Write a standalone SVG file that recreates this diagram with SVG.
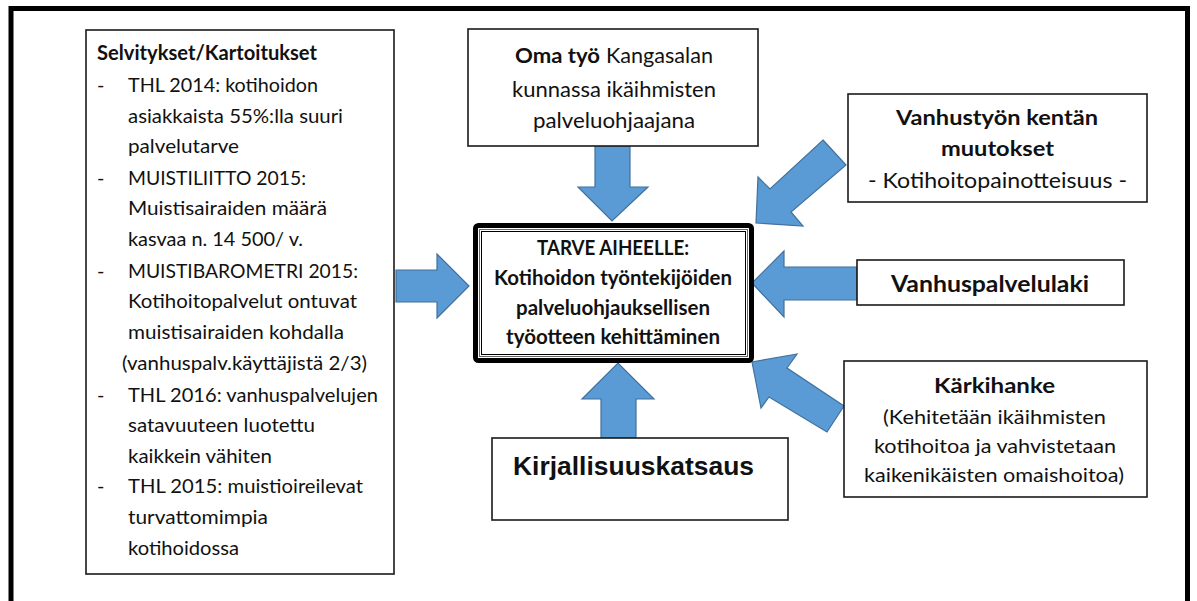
<svg xmlns="http://www.w3.org/2000/svg" width="1197" height="601" viewBox="0 0 1197 601">
<style>
.box{fill:#fff;stroke:#1a1a1a;stroke-width:1.6}
.arrow{fill:#5B9BD5;stroke:#41719C;stroke-width:1.2;stroke-linejoin:miter}
.t{font-family:Lato,"Open Sans","Noto Sans",sans-serif;font-size:20px;fill:#111}
.b{font-weight:bold}
.lg{font-size:23.5px}
.md{font-size:21px}
.ar{font-family:"Liberation Sans",Arial,sans-serif;font-weight:bold;font-size:26px;fill:#111}
</style>
<rect width="1197" height="601" fill="#fff"/>
<path d="M11,601 V8.5 H1187.5 V601" fill="none" stroke="#000" stroke-width="5"/>

<g id="connectors">
  <polygon class="arrow" points="396,270 437,270 437,254 469,286 437,318 437,302 396,302"/>
  <polygon class="arrow" points="595,146 630,146 630,187 648,187 612,221 578,187 595,187"/>
  <polygon class="arrow" points="601,438 601,399 582,399 618,363 654,399 636,399 636,438"/>
  <polygon class="arrow" points="823,140 846,165 791,212 803,226 756,223 758,177 770,189"/>
  <polygon class="arrow" points="857,267 784,267 784,251 752,283 784,317 784,300 857,300"/>
  <polygon class="arrow" points="844,406 827,432 769,397 761,408 752,362 797,354 787,368"/>
</g>

<g id="selvitykset">
  <rect class="box" x="86" y="30" width="308" height="544"/>
  <text class="t b" x="97" y="60" textLength="220" lengthAdjust="spacingAndGlyphs">Selvitykset/Kartoitukset</text>
  <text class="t" x="97" y="92">-</text>
  <text class="t" x="128" y="92" textLength="190" lengthAdjust="spacingAndGlyphs">THL 2014: kotihoidon</text>
  <text class="t" x="128" y="123" textLength="215" lengthAdjust="spacingAndGlyphs">asiakkaista 55%:lla suuri</text>
  <text class="t" x="128" y="153" textLength="111" lengthAdjust="spacingAndGlyphs">palvelutarve</text>
  <text class="t" x="97" y="185">-</text>
  <text class="t" x="128" y="185" textLength="178" lengthAdjust="spacingAndGlyphs">MUISTILIITTO 2015:</text>
  <text class="t" x="128" y="215" textLength="199" lengthAdjust="spacingAndGlyphs">Muistisairaiden määrä</text>
  <text class="t" x="128" y="246" textLength="175" lengthAdjust="spacingAndGlyphs">kasvaa n. 14 500/ v.</text>
  <text class="t" x="97" y="278">-</text>
  <text class="t" x="128" y="278" textLength="230" lengthAdjust="spacingAndGlyphs">MUISTIBAROMETRI 2015:</text>
  <text class="t" x="128" y="308" textLength="229" lengthAdjust="spacingAndGlyphs">Kotihoitopalvelut ontuvat</text>
  <text class="t" x="128" y="339" textLength="216" lengthAdjust="spacingAndGlyphs">muistisairaiden kohdalla</text>
  <text class="t" x="122" y="370" textLength="245" lengthAdjust="spacingAndGlyphs">(vanhuspalv.käyttäjistä 2/3)</text>
  <text class="t" x="97" y="402">-</text>
  <text class="t" x="128" y="402" textLength="250" lengthAdjust="spacingAndGlyphs">THL 2016: vanhuspalvelujen</text>
  <text class="t" x="128" y="432" textLength="187" lengthAdjust="spacingAndGlyphs">satavuuteen luotettu</text>
  <text class="t" x="128" y="463" textLength="144" lengthAdjust="spacingAndGlyphs">kaikkein vähiten</text>
  <text class="t" x="97" y="493">-</text>
  <text class="t" x="128" y="493" textLength="235" lengthAdjust="spacingAndGlyphs">THL 2015: muistioireilevat</text>
  <text class="t" x="128" y="524" textLength="140" lengthAdjust="spacingAndGlyphs">turvattomimpia</text>
  <text class="t" x="128" y="555" textLength="111" lengthAdjust="spacingAndGlyphs">kotihoidossa</text>
</g>

<g id="oma-tyo">
  <rect class="box" x="468" y="29" width="290" height="117"/>
  <text class="t md b" x="515" y="63" textLength="85" lengthAdjust="spacingAndGlyphs">Oma työ</text>
  <text class="t md" x="606" y="63" textLength="107" lengthAdjust="spacingAndGlyphs">Kangasalan</text>
  <text class="t md" x="512" y="97" textLength="204" lengthAdjust="spacingAndGlyphs">kunnassa ikäihmisten</text>
  <text class="t md" x="533" y="128" textLength="162" lengthAdjust="spacingAndGlyphs">palveluohjaajana</text>
</g>

<g id="tarve">
  <rect x="475.5" y="225.5" width="276" height="135" rx="3" fill="#fff" stroke="#000" stroke-width="5"/>
  <rect x="479.5" y="229.5" width="268" height="127" fill="none" stroke="#666" stroke-width="1"/>
  <rect x="481.5" y="231.5" width="264" height="123" fill="none" stroke="#000" stroke-width="1"/>
  <text class="t b" x="537" y="255" textLength="152" lengthAdjust="spacingAndGlyphs">TARVE AIHEELLE:</text>
  <text class="t b" x="494" y="285" textLength="238" lengthAdjust="spacingAndGlyphs">Kotihoidon työntekijöiden</text>
  <text class="t b" x="516" y="315" textLength="194" lengthAdjust="spacingAndGlyphs">palveluohjauksellisen</text>
  <text class="t b" x="506" y="344" textLength="214" lengthAdjust="spacingAndGlyphs">työotteen kehittäminen</text>
</g>

<g id="kirjallisuuskatsaus">
  <rect class="box" x="492" y="438" width="296" height="82"/>
  <text class="ar" x="513" y="475" textLength="241" lengthAdjust="spacingAndGlyphs">Kirjallisuuskatsaus</text>
</g>

<g id="vanhustyon-muutokset">
  <rect class="box" x="848" y="94" width="299" height="108"/>
  <text class="t md b" x="896" y="125" textLength="202" lengthAdjust="spacingAndGlyphs">Vanhustyön kentän</text>
  <text class="t md b" x="941" y="156" textLength="113" lengthAdjust="spacingAndGlyphs">muutokset</text>
  <text class="t md" x="868" y="188" textLength="259" lengthAdjust="spacingAndGlyphs">- Kotihoitopainotteisuus -</text>
</g>

<g id="vanhuspalvelulaki">
  <rect class="box" x="857" y="260" width="267" height="45"/>
  <text class="t lg b" x="891" y="292" textLength="198" lengthAdjust="spacingAndGlyphs">Vanhuspalvelulaki</text>
</g>

<g id="karkihanke">
  <rect class="box" x="844" y="361" width="303" height="136"/>
  <text class="t md b" x="934" y="393" textLength="121" lengthAdjust="spacingAndGlyphs">Kärkihanke</text>
  <text class="t" x="883" y="424" textLength="223" lengthAdjust="spacingAndGlyphs">(Kehitetään ikäihmisten</text>
  <text class="t" x="874" y="453" textLength="242" lengthAdjust="spacingAndGlyphs">kotihoitoa ja vahvistetaan</text>
  <text class="t" x="864" y="482" textLength="260" lengthAdjust="spacingAndGlyphs">kaikenikäisten omaishoitoa)</text>
</g>
</svg>
